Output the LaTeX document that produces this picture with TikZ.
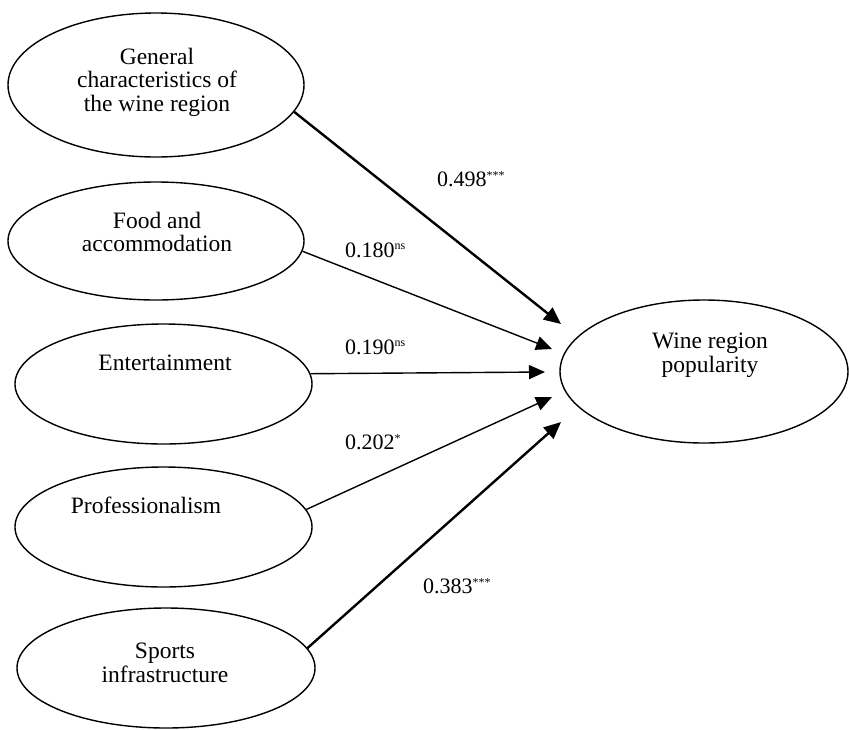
\documentclass[tikz,border=0pt]{standalone}
\usepackage{fontspec}
\setmainfont{Liberation Serif}
\usetikzlibrary{shapes.geometric,arrows.meta}
\tikzset{
  lat/.style={draw=black, line width=1.4pt, ellipse, inner sep=0pt},
  txt/.style={align=center, inner sep=0pt, font=\fontsize{23.5}{23.5}\selectfont},
  coef/.style={anchor=west, inner sep=0pt, font=\fontsize{22}{22}\selectfont},
  thinpath/.style={line width=1.4pt, -{Triangle[length=16pt,width=14pt]}},
  thickpath/.style={line width=2.4pt, -{Triangle[length=17pt,width=15pt]}},
}
\newcommand{\sig}[1]{\textsuperscript{\fontsize{12}{12}\selectfont #1}}
\begin{document}
\begin{tikzpicture}[x=1pt,y=-1pt]
\useasboundingbox (0,0) rectangle (849,729);
% latent variables
\node[lat, minimum width=296pt, minimum height=144pt] (gen) at (156,85) {};
\node[lat, minimum width=296pt, minimum height=118pt] (food) at (156,241) {};
\node[lat, minimum width=297pt, minimum height=120pt] (ent) at (163.5,384) {};
\node[lat, minimum width=297pt, minimum height=120pt] (prof) at (163.5,527) {};
\node[lat, minimum width=298pt, minimum height=120pt] (sport) at (166,668) {};
\node[lat, minimum width=288pt, minimum height=143pt] (wrp) at (704,371.5) {};
% texts
\node[txt] (gent) at (157,82) {General\\characteristics of\\the wine region};
\node[txt] (foodt) at (157,232) {Food and\\accommodation};
\node[txt] (entt) at (165,363) {Entertainment};
\node[txt] (proft) at (146,505) {Professionalism};
\node[txt] (sportt) at (165,663) {Sports\\infrastructure};
\node[txt] (wrpt) at (710,355) {Wine region\\popularity};
% arrow tips
\coordinate (t1) at (561,324);
\coordinate (t2) at (552,349);
\coordinate (t3) at (545,372);
\coordinate (t4) at (552,397);
\coordinate (t5) at (561,422);
% paths
\draw[thickpath] (gen.-11.2) -- (t1);
\draw[thinpath] (food.-4.3) -- (t2);
\draw[thinpath] (ent.4.2) -- (t3);
\draw[thinpath] (prof.7.6) -- (t4);
\draw[thickpath] (sport.8.8) -- (t5);
% coefficients
\node[coef] (c1) at (437,179) {0.498\sig{***}};
\node[coef] (c2) at (345,250) {0.180\sig{ns}};
\node[coef] (c3) at (345,347) {0.190\sig{ns}};
\node[coef] (c4) at (345,442) {0.202\sig{*}};
\node[coef] (c5) at (423,586) {0.383\sig{***}};
\end{tikzpicture}
\end{document}
